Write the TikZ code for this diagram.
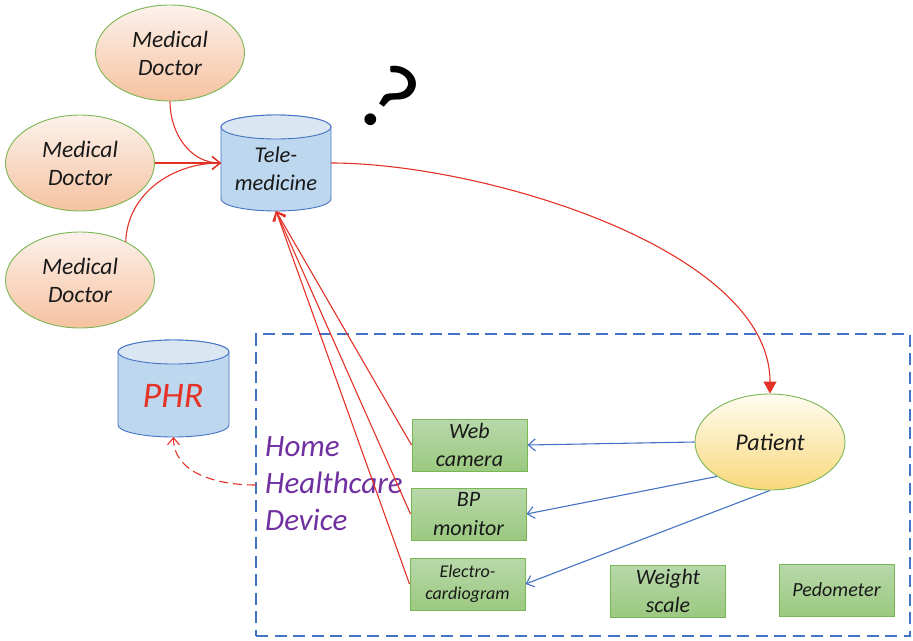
\documentclass[tikz,border=0pt]{standalone}
\usepackage{fontspec}
\setmainfont{Carlito}
\usetikzlibrary{arrows.meta,shapes.geometric}

\definecolor{docTop}{RGB}{252,242,235}
\definecolor{docBot}{RGB}{246,194,160}
\definecolor{nodeEdge}{RGB}{122,182,84}
\definecolor{boxTop}{RGB}{184,216,170}
\definecolor{boxBot}{RGB}{155,201,128}
\definecolor{patTop}{RGB}{255,252,242}
\definecolor{patBot}{RGB}{249,216,122}
\definecolor{cylBody}{RGB}{189,215,238}
\definecolor{cylTop}{RGB}{218,231,243}
\definecolor{cylEdge}{RGB}{68,114,196}
\definecolor{linkRed}{RGB}{228,50,38}
\definecolor{linkBlue}{RGB}{68,114,196}
\definecolor{hhdPurple}{RGB}{112,48,160}
\definecolor{inkText}{RGB}{25,25,25}

\tikzset{
  doctor/.style={ellipse, draw=nodeEdge, line width=0.9pt, top color=docTop, bottom color=docBot,
    minimum width=149pt, minimum height=96pt, inner sep=0pt, align=center, text=inkText,
    font=\fontsize{23.5}{28}\selectfont\itshape},
  patientnode/.style={ellipse, draw=nodeEdge, line width=0.9pt, top color=patTop, bottom color=patBot,
    minimum width=150pt, minimum height=96pt, inner sep=0pt, align=center, text=inkText,
    font=\fontsize{24}{29}\selectfont\itshape},
  device/.style={rectangle, draw=nodeEdge, line width=1pt, top color=boxTop, bottom color=boxBot,
    minimum width=115pt, minimum height=52pt, inner sep=0pt, align=center, text=inkText,
    font=\fontsize{22}{28.5}\selectfont\itshape},
  cylframe/.style={rectangle, draw=none, inner sep=0pt, outer sep=0pt,
    minimum width=110pt, minimum height=96pt},
  cylbody/.style={fill=cylBody, draw=cylEdge, line width=0.9pt},
  cyltop/.style={fill=cylTop, draw=cylEdge, line width=0.9pt},
  redlink/.style={draw=linkRed, line width=1.1pt, -{Straight Barb[length=8pt,width=13pt]}},
  bluelink/.style={draw=linkBlue, line width=1.1pt, -{Straight Barb[length=7pt,width=12pt]}},
  hhdbox/.style={rectangle, draw=linkBlue, line width=2pt, dash pattern=on 12pt off 6.5pt,
    minimum width=654pt, minimum height=302pt, inner sep=0pt, outer sep=0pt},
}

\begin{document}
\begin{tikzpicture}[x=1pt,y=1pt]
\useasboundingbox (0,0) rectangle (913,-640);

% home healthcare device frame and its label
\node[hhdbox] (hhd) at (583,-485) {};
\node[anchor=west, inner sep=0pt, align=left, text=hhdPurple,
      font=\fontsize{31}{37}\selectfont\itshape] (hhdlabel) at (265,-484)
      {Home\\Healthcare\\Device};

% doctors
\node[doctor] (md1) at (170,-53) {Medical\\Doctor};
\node[doctor] (md2) at (80,-163) {Medical\\Doctor};
\node[doctor] (md3) at (80,-280) {Medical\\Doctor};

% tele-medicine store
\node[cylframe] (tele) at (276,-163) {};
\path[cylbody] ([yshift=-12pt]tele.north west) -- ([yshift=12pt]tele.south west)
  arc[start angle=180, end angle=360, x radius=55pt, y radius=12pt]
  -- ([yshift=-12pt]tele.north east)
  arc[start angle=0, end angle=180, x radius=55pt, y radius=12pt] -- cycle;
\path[cyltop] ([yshift=-12pt]tele.north) ellipse[x radius=55pt, y radius=12pt];
\node[align=center, inner sep=0pt, text=inkText, font=\fontsize{22.5}{28}\selectfont\itshape]
  (teletext) at (276,-169) {Tele-\\medicine};

% personal health record store
\node[cylframe, minimum width=111pt, minimum height=97pt] (phr) at (173.5,-388.5) {};
\path[cylbody] ([yshift=-12pt]phr.north west) -- ([yshift=12pt]phr.south west)
  arc[start angle=180, end angle=360, x radius=55.5pt, y radius=12pt]
  -- ([yshift=-12pt]phr.north east)
  arc[start angle=0, end angle=180, x radius=55.5pt, y radius=12pt] -- cycle;
\path[cyltop] ([yshift=-12pt]phr.north) ellipse[x radius=55.5pt, y radius=12pt];
\node[inner sep=0pt, text=linkRed, font=\fontsize{36}{40}\selectfont\itshape]
  (phrtext) at (173,-396) {PHR};

% question mark
\node[inner sep=0pt, rotate=-35, text=black, font=\fontsize{98}{100}\selectfont]
  (quest) at (389,-98) {?};

% patient and devices
\node[patientnode] (patient) at (770,-442) {Patient};
\node[device] (web) at (469.5,-445) {Web\\camera};
\node[device] (bp) at (468.5,-514) {BP\\monitor};
\node[device, font=\fontsize{18}{22}\selectfont\itshape] (ecg) at (467.5,-584) {Electro-\\cardiogram};
\node[device] (weight) at (668,-591) {Weight\\scale};
\node[device, font=\fontsize{20}{24}\selectfont\itshape] (pedo) at (836.5,-590) {Pedometer};

% doctors to tele-medicine
\draw[redlink] (md1.south) to[out=-90, in=180] (tele.west);
\draw[redlink] (md2.east) -- (tele.west);
\draw[redlink] (md3.40) to[out=88, in=180] (tele.west);

% devices report to tele-medicine
\draw[redlink] (web.west) -- (tele.south);
\draw[redlink] (bp.west) -- (tele.south);
\draw[redlink] (ecg.west) -- (tele.south);

% tele-medicine reaches the patient
\draw[draw=linkRed, line width=1.1pt, -{Triangle[length=12pt,width=13pt]}, linkRed]
  (tele.east) .. controls +(150,0) and +(0,145) .. (patient.north);

% patient uses the devices
\draw[bluelink] (patient.west) -- (web.east);
\draw[bluelink] (patient.213) -- (bp.east);
\draw[bluelink] (patient.south) -- (ecg.east);

% device data archived in the PHR
\draw[draw=linkRed, line width=1.1pt, dash pattern=on 9pt off 5pt,
      -{Straight Barb[length=7pt,width=12pt]}]
  (hhd.west) to[out=180, in=-90] (phr.south);
\end{tikzpicture}
\end{document}
